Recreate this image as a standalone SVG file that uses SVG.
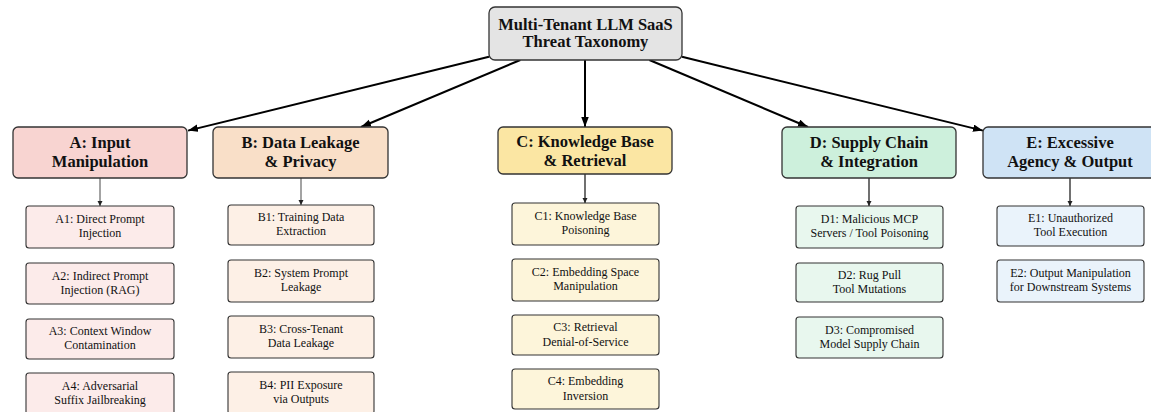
<svg xmlns="http://www.w3.org/2000/svg" width="1151" height="412" viewBox="0 0 1151 412">
<style>
text{font-family:"Liberation Serif","Times New Roman",serif;text-anchor:middle;fill:#111}
.t{font-weight:bold;font-size:16.5px}
.c{font-size:12px}
.hd{stroke:#333;stroke-width:1.3}
.ch{stroke:#333;stroke-width:1.1}
.big{stroke:#000;stroke-width:2;fill:none}
.sm{stroke-width:1.2;fill:none}
</style>
<defs>
<marker id="ah" markerUnits="userSpaceOnUse" markerWidth="11" markerHeight="8" refX="10" refY="3.75" orient="auto"><path d="M0,0 L10,3.75 L0,7.5 z" fill="#000"/></marker>
<marker id="as" markerUnits="userSpaceOnUse" markerWidth="6" markerHeight="6" refX="5" refY="2.5" orient="auto"><path d="M0,0 L5,2.5 L0,5 z" fill="#222"/></marker>
</defs>
<g id="connectors">
<line class="big" x1="489" y1="56.8" x2="188" y2="130.6" marker-end="url(#ah)"/>
<line class="big" x1="520.3" y1="60" x2="361" y2="127" marker-end="url(#ah)"/>
<line class="big" x1="585" y1="60" x2="585" y2="127" stroke-width="1.6" marker-end="url(#ah)"/>
<line class="big" x1="649.4" y1="60" x2="808" y2="127" marker-end="url(#ah)"/>
<line class="big" x1="682" y1="56.8" x2="983" y2="130.6" marker-end="url(#ah)"/>
<line class="sm" stroke="#666" x1="100" y1="178" x2="100" y2="206" marker-end="url(#as)"/>
<line class="sm" stroke="#666" x1="301" y1="178" x2="301" y2="205" marker-end="url(#as)"/>
<line class="sm" stroke="#111" x1="585" y1="174" x2="585" y2="203" marker-end="url(#as)"/>
<line class="sm" stroke="#111" x1="869" y1="178" x2="869" y2="206" marker-end="url(#as)"/>
<line class="sm" stroke="#111" x1="1070" y1="178" x2="1070" y2="206" marker-end="url(#as)"/>
</g>
<g id="root"><rect class="hd" x="489" y="7" width="193" height="53" rx="6" fill="#e4e4e4"/><text class="t" x="585.5" y="30">Multi-Tenant LLM SaaS</text><text class="t" x="585.5" y="47">Threat Taxonomy</text></g>
<g id="A"><rect class="hd" x="13" y="127" width="174" height="51" rx="5" fill="#f8d4d1"/><text class="t" x="100" y="148">A: Input</text><text class="t" x="100" y="167">Manipulation</text></g>
<g id="B"><rect class="hd" x="213" y="127" width="175" height="51" rx="5" fill="#f9dfc8"/><text class="t" x="300.5" y="148">B: Data Leakage</text><text class="t" x="300.5" y="167">&amp; Privacy</text></g>
<g id="C"><rect class="hd" x="498" y="127" width="174" height="47" rx="5" fill="#fbe6a3"/><text class="t" x="585" y="147">C: Knowledge Base</text><text class="t" x="585" y="166">&amp; Retrieval</text></g>
<g id="D"><rect class="hd" x="782" y="127" width="174" height="51" rx="5" fill="#cdf0dc"/><text class="t" x="869" y="148">D: Supply Chain</text><text class="t" x="869" y="167">&amp; Integration</text></g>
<g id="E"><rect class="hd" x="983" y="127" width="174" height="51" rx="5" fill="#cfe3f5"/><text class="t" x="1070" y="148">E: Excessive</text><text class="t" x="1070" y="167">Agency &amp; Output</text></g>
<g id="A1"><rect class="ch" x="26" y="206" width="148" height="42" rx="3" fill="#fcebea"/><text class="c" x="100" y="223">A1: Direct Prompt</text><text class="c" x="100" y="237">Injection</text></g>
<g id="A2"><rect class="ch" x="26" y="263" width="148" height="41" rx="3" fill="#fcebea"/><text class="c" x="100" y="279.5">A2: Indirect Prompt</text><text class="c" x="100" y="293.5">Injection (RAG)</text></g>
<g id="A3"><rect class="ch" x="26" y="319" width="148" height="40" rx="3" fill="#fcebea"/><text class="c" x="100" y="335">A3: Context Window</text><text class="c" x="100" y="349">Contamination</text></g>
<g id="A4"><rect class="ch" x="26" y="373" width="148" height="42" rx="3" fill="#fcebea"/><text class="c" x="100" y="390">A4: Adversarial</text><text class="c" x="100" y="404">Suffix Jailbreaking</text></g>
<g id="B1"><rect class="ch" x="228" y="205" width="146" height="40" rx="3" fill="#fdf0e6"/><text class="c" x="301" y="221">B1: Training Data</text><text class="c" x="301" y="235">Extraction</text></g>
<g id="B2"><rect class="ch" x="228" y="260" width="146" height="42" rx="3" fill="#fdf0e6"/><text class="c" x="301" y="277">B2: System Prompt</text><text class="c" x="301" y="291">Leakage</text></g>
<g id="B3"><rect class="ch" x="228" y="316" width="146" height="42" rx="3" fill="#fdf0e6"/><text class="c" x="301" y="333">B3: Cross-Tenant</text><text class="c" x="301" y="347">Data Leakage</text></g>
<g id="B4"><rect class="ch" x="228" y="372" width="146" height="42" rx="3" fill="#fdf0e6"/><text class="c" x="301" y="389">B4: PII Exposure</text><text class="c" x="301" y="403">via Outputs</text></g>
<g id="C1"><rect class="ch" x="512" y="203" width="147" height="42" rx="3" fill="#fdf5da"/><text class="c" x="585.5" y="220">C1: Knowledge Base</text><text class="c" x="585.5" y="234">Poisoning</text></g>
<g id="C2"><rect class="ch" x="512" y="259" width="147" height="42" rx="3" fill="#fdf5da"/><text class="c" x="585.5" y="276">C2: Embedding Space</text><text class="c" x="585.5" y="290">Manipulation</text></g>
<g id="C3"><rect class="ch" x="512" y="315" width="147" height="40" rx="3" fill="#fdf5da"/><text class="c" x="585.5" y="331">C3: Retrieval</text><text class="c" x="585.5" y="346">Denial-of-Service</text></g>
<g id="C4"><rect class="ch" x="512" y="369" width="147" height="40" rx="3" fill="#fdf5da"/><text class="c" x="585.5" y="385">C4: Embedding</text><text class="c" x="585.5" y="400">Inversion</text></g>
<g id="D1"><rect class="ch" x="796" y="206" width="147" height="42" rx="3" fill="#e8f7ee"/><text class="c" x="869.5" y="223">D1: Malicious MCP</text><text class="c" x="869.5" y="237">Servers / Tool Poisoning</text></g>
<g id="D2"><rect class="ch" x="796" y="263" width="147" height="39" rx="3" fill="#e8f7ee"/><text class="c" x="869.5" y="279">D2: Rug Pull</text><text class="c" x="869.5" y="293">Tool Mutations</text></g>
<g id="D3"><rect class="ch" x="796" y="317" width="147" height="41" rx="3" fill="#e8f7ee"/><text class="c" x="869.5" y="333.5">D3: Compromised</text><text class="c" x="869.5" y="347.5">Model Supply Chain</text></g>
<g id="E1"><rect class="ch" x="997" y="206" width="147" height="40" rx="3" fill="#eaf3fb"/><text class="c" x="1070.5" y="222">E1: Unauthorized</text><text class="c" x="1070.5" y="236">Tool Execution</text></g>
<g id="E2"><rect class="ch" x="997" y="260" width="147" height="42" rx="3" fill="#eaf3fb"/><text class="c" x="1070.5" y="277">E2: Output Manipulation</text><text class="c" x="1070.5" y="291">for Downstream Systems</text></g>
</svg>
